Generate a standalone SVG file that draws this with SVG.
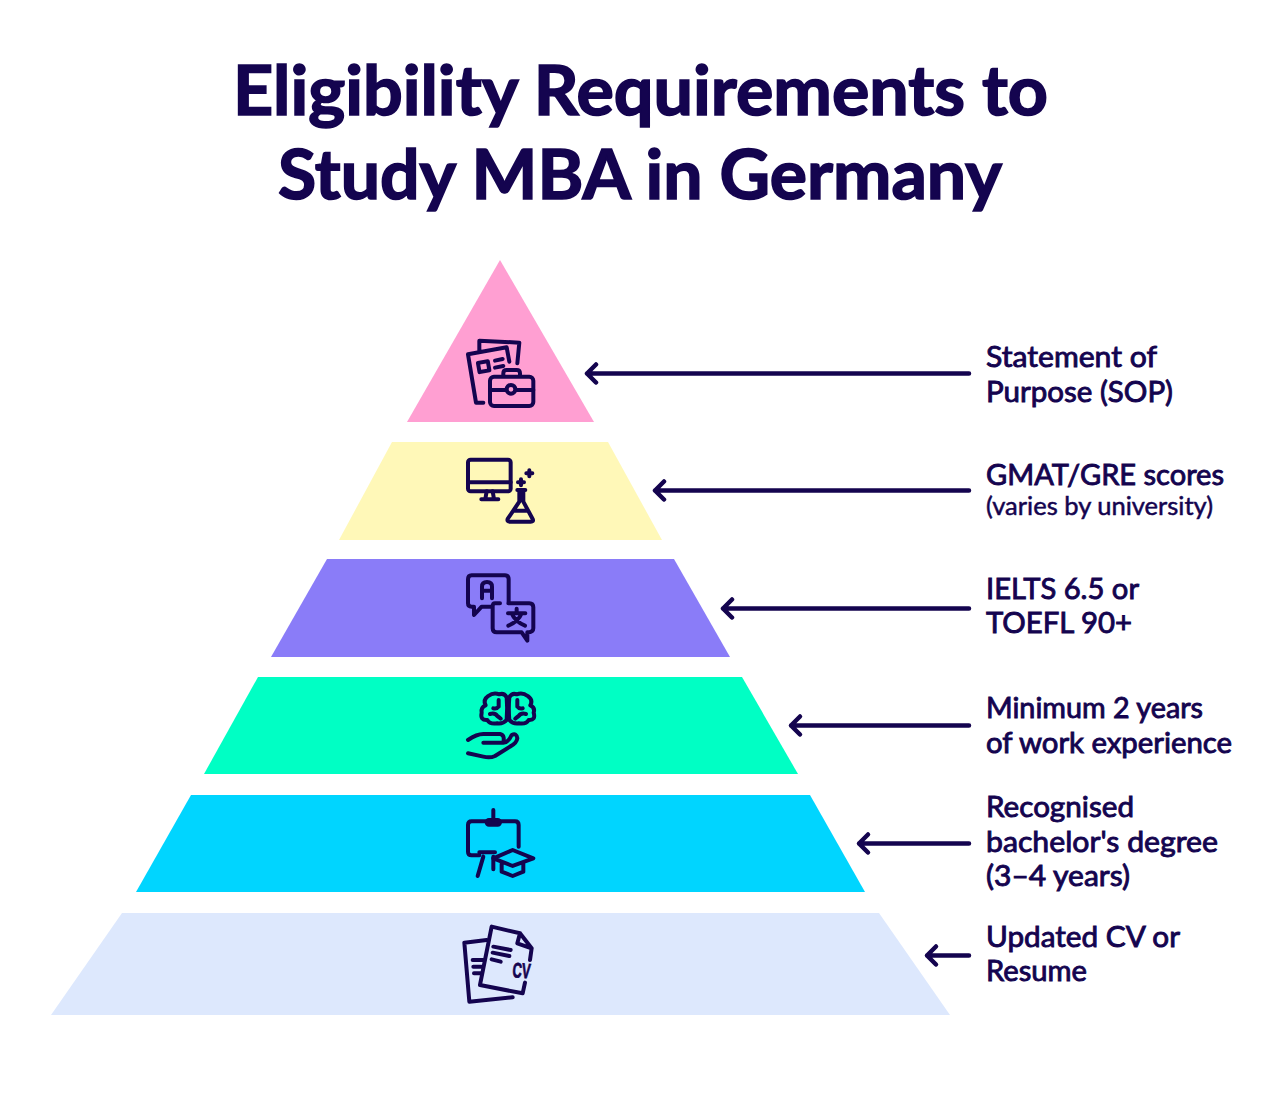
<svg xmlns="http://www.w3.org/2000/svg" width="1280" height="1097" viewBox="0 0 1280 1097">
<style>
text{fill:#14044f;font-family:"Lato","Noto Sans",sans-serif}
.t{font-size:69px;font-weight:700;stroke:#14044f;stroke-width:1.6px}
.l{font-size:29px;font-weight:400;stroke:#14044f;stroke-width:.9px}
.s{font-size:25px;font-weight:400;stroke:#14044f;stroke-width:.5px}
.i{fill:none;stroke:#14044f;stroke-width:12;stroke-linecap:round;stroke-linejoin:round}
.a{fill:none;stroke:#14044f;stroke-width:4.5;stroke-linecap:round;stroke-linejoin:round}
</style>
<rect width="1280" height="1097" fill="#fff"/>
<g id="title">
<text class="t" x="233" y="115" textLength="815" lengthAdjust="spacingAndGlyphs">Eligibility Requirements to</text>
<text class="t" x="278" y="199" textLength="724" lengthAdjust="spacingAndGlyphs">Study MBA in Germany</text>
</g>
<g id="tier-sop">
<polygon points="500,260 594,422 407,422" fill="#ff9fd2"/>
<g class="i" transform="translate(440,320) scale(.3333)">
<path d="M118 95V62L238 68 232 130M208 125 200 82 84 103 108 248H130"/>
<rect x="116" y="126" width="30" height="28" transform="rotate(-10 131 140)"/>
<path d="M165 122 188 117M165 143 190 138"/>
<rect x="150" y="170" width="130" height="88" rx="12"/>
<path d="M150 210H199M228 210H280M190 168v-8q0-10 10-10h30q10 0 10 10v8"/>
<circle cx="213" cy="208" r="13"/>
</g>
<text class="l" x="986" y="367" textLength="171" lengthAdjust="spacingAndGlyphs">Statement of</text>
<text class="l" x="986" y="402" textLength="187" lengthAdjust="spacingAndGlyphs">Purpose (SOP)</text>
</g>
<g id="tier-gmat">
<polygon points="392,442 608,442 662,540 339,540" fill="#fff8b8"/>
<g class="i" transform="translate(440,320) scale(.3333)">
<rect x="84" y="419" width="128" height="95" rx="8"/>
<path d="M84 487H212M140 514 136 537M158 514 162 537M124 538H175"/>
<path d="M268 451V469M259 460H277M243 478V496M234 487H252"/>
<path d="M232 510H256M238 510V545L203 597Q200 605 210 605H272Q282 605 278 597L250 545V510M220 572H262"/>
</g>
<text class="l" x="986" y="485" textLength="238" lengthAdjust="spacingAndGlyphs">GMAT/GRE scores</text>
<text class="s" x="986" y="515" textLength="227" lengthAdjust="spacingAndGlyphs">(varies by university)</text>
</g>
<g id="tier-ielts">
<polygon points="327,559 674,559 730,657 271,657" fill="#8a7cf8"/>
<g class="i" transform="translate(440,560) scale(.3333)">
<path d="M152 140H125L102 165V140H95Q84 140 84 130V58Q84 46 95 46H195Q206 46 206 58V125"/>
<path d="M126 115V80Q126 66 141 66 156 66 156 80V115M126 92H156"/>
<path d="M180 130H165Q158 130 158 140V205Q158 217 170 217H245L262 242V217Q280 217 280 205V142Q280 130 268 130H205"/>
<path d="M204 160H256M230 146V160M245 160Q235 185 205 197M215 160Q225 185 255 197"/>
</g>
<text class="l" x="986" y="599" textLength="153" lengthAdjust="spacingAndGlyphs">IELTS 6.5 or</text>
<text class="l" x="986" y="633" textLength="146" lengthAdjust="spacingAndGlyphs">TOEFL 90+</text>
</g>
<g id="tier-work">
<polygon points="258,677 742,677 798,774 204,774" fill="#00ffc4"/>
<g class="i" transform="translate(440,560) scale(.3333)">
<path d="M200 480Q190 492 172 490 150 494 142 480 120 482 125 458 122 442 137 436 128 420 145 408 160 396 178 403 192 398 200 412 203 445 200 480Z"/>
<path d="M208 480Q218 492 236 490 258 494 266 480 288 482 281 458 286 442 271 436 280 420 263 408 248 396 230 403 216 398 208 412 205 445 208 480Z"/>
<path d="M176 420V440Q170 448 160 445M150 462Q165 458 172 468 178 472 182 476M232 420V440Q238 448 248 445M258 462Q243 458 236 468 230 472 226 476"/>
<path d="M84 540Q110 522 130 522H180Q195 524 190 548H130M190 548Q205 548 215 525 230 518 232 535 230 550 210 560L165 588Q150 595 130 590L84 580"/>
</g>
<text class="l" x="986" y="718" textLength="217" lengthAdjust="spacingAndGlyphs">Minimum 2 years</text>
<text class="l" x="986" y="753" textLength="246" lengthAdjust="spacingAndGlyphs">of work experience</text>
</g>
<g id="tier-degree">
<polygon points="191,795 810,795 865,892 136,892" fill="#00d5ff"/>
<g class="i" transform="translate(440,800) scale(.3333)">
<path d="M236 140V75Q236 64 225 64H95Q84 64 84 75V155Q84 166 95 166H118"/>
<rect x="140" y="60" width="40" height="14" rx="7"/>
<path d="M160 30V60M118 157H165M130 170 113 228M160 170V208"/>
<path d="M160 175 218 150 280 175 218 198ZM185 190V215L218 228 250 215V190"/>
</g>
<text class="l" x="986" y="817" textLength="148" lengthAdjust="spacingAndGlyphs">Recognised</text>
<text class="l" x="986" y="852" textLength="232" lengthAdjust="spacingAndGlyphs">bachelor's degree</text>
<text class="l" x="986" y="886" textLength="144" lengthAdjust="spacingAndGlyphs">(3–4 years)</text>
</g>
<g id="tier-cv">
<polygon points="122,913 879,913 950,1015 51,1015" fill="#dde8fd"/>
<g class="i" transform="translate(440,800) scale(.3333)">
<path d="M140 420 73 428 88 605 218 592M98 480H130M100 500H125M102 520H125"/>
<path d="M240 400 155 380 120 555 248 580 255 548M240 400 275 445 270 480M240 400 232 430 275 445"/>
<path d="M160 440 212 450M158 458 208 468M155 478 182 485"/>
</g>
<text x="512" y="977" transform="rotate(5 512 977)" font-size="21" font-weight="700" stroke="#14044f" stroke-width=".8" style="font-family:'Liberation Sans Narrow','Liberation Sans',sans-serif" textLength="18" lengthAdjust="spacingAndGlyphs">CV</text>
<text class="l" x="986" y="947" textLength="194" lengthAdjust="spacingAndGlyphs">Updated CV or</text>
<text class="l" x="986" y="981" textLength="101" lengthAdjust="spacingAndGlyphs">Resume</text>
</g>
<g id="connectors" class="a">
<path d="M969 373.500H587M596 364.500 587 373.500 596 382.500"/>
<path d="M969 490.500H655M664 481.500 655 490.500 664 499.500"/>
<path d="M969 608.500H723M732 599.500 723 608.500 732 617.500"/>
<path d="M969 725.500H791M800 716.500 791 725.500 800 734.500"/>
<path d="M969 843.500H859M868 834.500 859 843.500 868 852.500"/>
<path d="M969 955.500H927M936 946.500 927 955.500 936 964.500"/>
</g>
</svg>
